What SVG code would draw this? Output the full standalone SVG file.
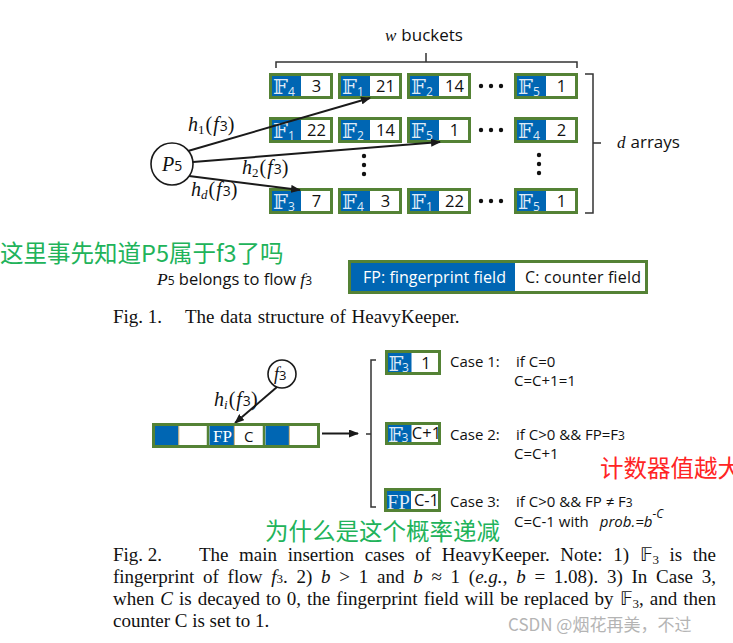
<svg xmlns="http://www.w3.org/2000/svg" width="733" height="643" viewBox="0 0 733 643">
<style>
.bk{fill:#fff;stroke:#548235;stroke-width:3}
.bl{fill:#0066b3}
.ff{font-family:"DejaVu Serif","DejaVu Sans","Liberation Serif",serif;fill:#dfeaf6;font-size:21px}
.fs{font-family:"Open Sans","Noto Sans",sans-serif;fill:#dfeaf6;font-size:12px}
.num{font-family:"Open Sans","Noto Sans",sans-serif;font-size:16.5px;fill:#111;text-anchor:middle}
.sans{font-family:"Open Sans","Noto Sans",sans-serif;fill:#111}
.ser{font-family:"Liberation Serif",serif;fill:#111}
.it{font-style:italic}
.ln{stroke:#1a1a1a;stroke-width:2;fill:none}
.br{stroke:#333;stroke-width:1.5;fill:none}
.dot{fill:#111}
.cap{font-family:"Liberation Serif",serif;font-size:19px;fill:#111}
.cjk{font-family:"Noto Sans CJK SC",sans-serif}
</style>
<defs>
<marker id="ah" markerUnits="userSpaceOnUse" markerWidth="10" markerHeight="8" refX="9" refY="4" orient="auto">
<path d="M0,0 L10,4 L0,8 z" fill="#1a1a1a"/>
</marker>
</defs>

<!-- top brackets -->
<g id="w-bracket">
<path class="br" d="M276,68 V62 H577 V68 M426,62 V53"/>
<text x="385" y="41" font-size="17"><tspan class="ser it">w</tspan><tspan class="sans" dx="5">buckets</tspan></text>
</g>
<g id="d-bracket">
<path class="br" d="M585,74 H593 V213 H585 M593,143 H601"/>
<text x="617" y="148" font-size="17"><tspan class="ser it">d</tspan><tspan class="sans" dx="5">arrays</tspan></text>
</g>

<!-- row 1 -->
<g id="b11" transform="translate(269,73)"><rect class="bk" x="1.5" y="1.5" width="61" height="23"/><rect class="bl" x="3" y="3" width="29" height="20"/><text class="ff" x="4" y="21">𝔽</text><text class="fs" x="19" y="23">4</text><text class="num" x="47.5" y="19">3</text></g>
<g id="b12" transform="translate(338,73)"><rect class="bk" x="1.5" y="1.5" width="61" height="23"/><rect class="bl" x="3" y="3" width="29" height="20"/><text class="ff" x="4" y="21">𝔽</text><text class="fs" x="19" y="23">1</text><text class="num" x="47.5" y="19">21</text></g>
<g id="b13" transform="translate(407,73)"><rect class="bk" x="1.5" y="1.5" width="61" height="23"/><rect class="bl" x="3" y="3" width="29" height="20"/><text class="ff" x="4" y="21">𝔽</text><text class="fs" x="19" y="23">2</text><text class="num" x="47.5" y="19">14</text></g>
<g id="b14" transform="translate(514,73)"><rect class="bk" x="1.5" y="1.5" width="61" height="23"/><rect class="bl" x="3" y="3" width="29" height="20"/><text class="ff" x="4" y="21">𝔽</text><text class="fs" x="19" y="23">5</text><text class="num" x="47.5" y="19">1</text></g>
<!-- row 2 -->
<g id="b21" transform="translate(269,117)"><rect class="bk" x="1.5" y="1.5" width="61" height="23"/><rect class="bl" x="3" y="3" width="29" height="20"/><text class="ff" x="4" y="21">𝔽</text><text class="fs" x="19" y="23">1</text><text class="num" x="47.5" y="19">22</text></g>
<g id="b22" transform="translate(338,117)"><rect class="bk" x="1.5" y="1.5" width="61" height="23"/><rect class="bl" x="3" y="3" width="29" height="20"/><text class="ff" x="4" y="21">𝔽</text><text class="fs" x="19" y="23">2</text><text class="num" x="47.5" y="19">14</text></g>
<g id="b23" transform="translate(407,117)"><rect class="bk" x="1.5" y="1.5" width="61" height="23"/><rect class="bl" x="3" y="3" width="29" height="20"/><text class="ff" x="4" y="21">𝔽</text><text class="fs" x="19" y="23">5</text><text class="num" x="47.5" y="19">1</text></g>
<g id="b24" transform="translate(514,117)"><rect class="bk" x="1.5" y="1.5" width="61" height="23"/><rect class="bl" x="3" y="3" width="29" height="20"/><text class="ff" x="4" y="21">𝔽</text><text class="fs" x="19" y="23">4</text><text class="num" x="47.5" y="19">2</text></g>
<!-- row d -->
<g id="b31" transform="translate(269,188)"><rect class="bk" x="1.5" y="1.5" width="61" height="23"/><rect class="bl" x="3" y="3" width="29" height="20"/><text class="ff" x="4" y="21">𝔽</text><text class="fs" x="19" y="23">3</text><text class="num" x="47.5" y="19">7</text></g>
<g id="b32" transform="translate(338,188)"><rect class="bk" x="1.5" y="1.5" width="61" height="23"/><rect class="bl" x="3" y="3" width="29" height="20"/><text class="ff" x="4" y="21">𝔽</text><text class="fs" x="19" y="23">4</text><text class="num" x="47.5" y="19">3</text></g>
<g id="b33" transform="translate(407,188)"><rect class="bk" x="1.5" y="1.5" width="61" height="23"/><rect class="bl" x="3" y="3" width="29" height="20"/><text class="ff" x="4" y="21">𝔽</text><text class="fs" x="19" y="23">1</text><text class="num" x="47.5" y="19">22</text></g>
<g id="b34" transform="translate(514,188)"><rect class="bk" x="1.5" y="1.5" width="61" height="23"/><rect class="bl" x="3" y="3" width="29" height="20"/><text class="ff" x="4" y="21">𝔽</text><text class="fs" x="19" y="23">5</text><text class="num" x="47.5" y="19">1</text></g>

<!-- dots -->
<g id="dots">
<circle class="dot" cx="481" cy="86" r="2.2"/><circle class="dot" cx="491" cy="86" r="2.2"/><circle class="dot" cx="501" cy="86" r="2.2"/>
<circle class="dot" cx="481" cy="130" r="2.2"/><circle class="dot" cx="491" cy="130" r="2.2"/><circle class="dot" cx="501" cy="130" r="2.2"/>
<circle class="dot" cx="481" cy="201" r="2.2"/><circle class="dot" cx="491" cy="201" r="2.2"/><circle class="dot" cx="501" cy="201" r="2.2"/>
<circle class="dot" cx="364" cy="156" r="2.2"/><circle class="dot" cx="364" cy="165" r="2.2"/><circle class="dot" cx="364" cy="174" r="2.2"/>
<circle class="dot" cx="539" cy="155" r="2.2"/><circle class="dot" cx="539" cy="164" r="2.2"/><circle class="dot" cx="539" cy="173" r="2.2"/>
</g>

<!-- P5 node -->
<g id="p5">
<circle cx="172" cy="164" r="21" fill="#fff" stroke="#1a1a1a" stroke-width="1.6"/>
<text x="162" y="171" font-size="20"><tspan class="ser it">P</tspan><tspan class="sans" font-size="14">5</tspan></text>
</g>

<!-- f3 node -->
<g id="f3">
<circle cx="282" cy="374" r="14" fill="#fff" stroke="#1a1a1a" stroke-width="1.6"/>
<text x="274" y="380" font-size="18"><tspan class="ser it">f</tspan><tspan class="sans" font-size="13">3</tspan></text>
</g>

<!-- connectors -->
<g id="connectors">
<line class="ln" x1="188" y1="151" x2="370" y2="98" marker-end="url(#ah)"/>
<line class="ln" x1="193" y1="162" x2="440" y2="142" marker-end="url(#ah)"/>
<line class="ln" x1="189" y1="176" x2="300" y2="190" marker-end="url(#ah)"/>
<line class="ln" x1="277" y1="387" x2="235" y2="423" marker-end="url(#ah)"/>
<line class="ln" x1="322" y1="433.5" x2="358" y2="433.5" marker-end="url(#ah)"/>
</g>

<!-- hash labels -->
<g id="labels" font-size="20">
<text x="188" y="131"><tspan class="ser it">h</tspan><tspan class="ser" font-size="13" dy="3">1</tspan><tspan class="ser" dy="-3" dx="1">(</tspan><tspan class="ser it" dx="1">f</tspan><tspan class="sans" font-size="14" dx="1">3</tspan><tspan class="ser">)</tspan></text>
<text x="242" y="174"><tspan class="ser it">h</tspan><tspan class="ser" font-size="13" dy="3">2</tspan><tspan class="ser" dy="-3" dx="1">(</tspan><tspan class="ser it" dx="1">f</tspan><tspan class="sans" font-size="14" dx="1">3</tspan><tspan class="ser">)</tspan></text>
<text x="191" y="196"><tspan class="ser it">h</tspan><tspan class="ser it" font-size="13" dy="3">d</tspan><tspan class="ser" dy="-3" dx="1">(</tspan><tspan class="ser it" dx="1">f</tspan><tspan class="sans" font-size="14" dx="1">3</tspan><tspan class="ser">)</tspan></text>
<text x="214" y="406"><tspan class="ser it">h</tspan><tspan class="ser it" font-size="13" dy="3">i</tspan><tspan class="ser" dy="-3" dx="1">(</tspan><tspan class="ser it" dx="1">f</tspan><tspan class="sans" font-size="14" dx="1">3</tspan><tspan class="ser">)</tspan></text>
</g>

<!-- annotation and legend -->
<text class="cjk" x="0" y="262" font-size="23.5" fill="#21b35a">这里事先知道P5属于f3了吗</text>
<text x="157" y="285" font-size="16.5"><tspan class="ser it" font-size="17.5">P</tspan><tspan class="sans" font-size="12">5</tspan><tspan class="sans"> belongs to flow </tspan><tspan class="ser it" font-size="17.5">f</tspan><tspan class="sans" font-size="12">3</tspan></text>
<g id="legend">
<rect x="349.5" y="261.5" width="297" height="31" fill="#fff" stroke="#548235" stroke-width="3"/>
<rect x="351" y="263" width="164" height="28" fill="#0066b3"/>
<text class="sans" x="363" y="283" font-size="16" style="fill:#fff" textLength="143">FP: fingerprint field</text>
<text class="sans" x="525" y="283" font-size="16" textLength="116">C: counter field</text>
</g>
<text class="cap" x="113" y="323">Fig. 1.</text>
<text class="cap" x="185" y="323" word-spacing="1">The data structure of HeavyKeeper.</text>

<!-- fig 2 array -->
<g id="array">
<rect x="153.5" y="424.5" width="165" height="22" fill="#fff" stroke="#548235" stroke-width="3"/>
<rect class="bl" x="155" y="426" width="23.5" height="19"/>
<rect class="bl" x="209.5" y="426" width="24.5" height="19"/>
<rect class="bl" x="265.5" y="426" width="23.5" height="19"/>
<path d="M178.8,426 V445 M234.3,426 V445 M289.3,426 V445" stroke="#c9a86a" stroke-width="1"/>
<path d="M208,424 V447 M264,424 V447" stroke="#548235" stroke-width="2.5"/>
<text x="213" y="442" font-family="Liberation Serif,serif" font-size="17" fill="#fff">FP</text>
<text class="sans" x="244" y="442" font-size="15">C</text>
</g>

<!-- case bracket -->
<path id="case-bracket" class="br" d="M376,360 H371 V507 H376 M371,434 H366"/>

<g id="case1">
<rect class="bk" x="386.5" y="351.5" width="53" height="22"/>
<rect class="bl" x="388" y="353" width="23.5" height="19"/>
<text class="ff" x="388.5" y="371">𝔽</text><text class="fs" x="402" y="372">3</text>
<text class="num" x="426" y="368.5" font-size="15">1</text>
<text class="sans" x="450" y="367" font-size="15">Case 1:</text>
<text class="sans" x="516" y="367" font-size="15">if C=0</text>
<text class="sans" x="514" y="386" font-size="15">C=C+1=1</text>
</g>
<g id="case2">
<rect class="bk" x="386.5" y="423.5" width="53" height="20"/>
<rect class="bl" x="388" y="425" width="23.5" height="17"/>
<text class="ff" x="388" y="441.5" font-size="19.5">𝔽</text><text class="fs" x="401.5" y="442" font-size="11.5">3</text>
<text class="num" x="426.5" y="438.5" font-size="11.5">C+1</text>
<text class="sans" x="450" y="440" font-size="15">Case 2:</text>
<text class="sans" x="516" y="440" font-size="15">if C&gt;0 &amp;&amp; FP=F<tspan font-size="12">3</tspan></text>
<text class="sans" x="514" y="459" font-size="15">C=C+1</text>
</g>
<g id="case3">
<rect class="bk" x="385.5" y="489.5" width="54" height="21"/>
<rect class="bl" x="387" y="491" width="24" height="18"/>
<text x="387" y="508.5" font-family="Liberation Serif,serif" font-size="20.5" fill="#dfeaf6">FP</text>
<text class="num" x="426.5" y="505.5" font-size="12">C-1</text>
<text class="sans" x="450" y="507" font-size="15">Case 3:</text>
<text class="sans" x="516" y="507" font-size="15">if C&gt;0 &amp;&amp; FP ≠ F<tspan font-size="12">3</tspan></text>
<text class="sans" x="514" y="527" font-size="15">C=C-1 with<tspan class="it" dx="11">prob.=b</tspan><tspan class="it" font-size="12" dy="-9">-C</tspan></text>
</g>

<text class="cjk" x="600" y="477" font-size="23.5" fill="#ff2424">计数器值越大</text>
<text class="cjk" x="265" y="540" font-size="23.5" fill="#21b35a">为什么是这个概率递减</text>

<!-- fig 2 caption -->
<text class="cap" x="113" y="561">Fig. 2.</text>
<text class="cap" x="199" y="561" word-spacing="5.8">The main insertion cases of HeavyKeeper. Note: 1) 𝔽<tspan font-size="13" dy="3">3</tspan><tspan dy="-3"> is the</tspan></text>
<text class="cap" x="113" y="583" word-spacing="4">fingerprint of flow <tspan class="it">f</tspan><tspan font-size="13">3</tspan>. 2) <tspan class="it">b</tspan> &gt; 1 and <tspan class="it">b</tspan> ≈ 1 (<tspan class="it">e.g.</tspan>, <tspan class="it">b</tspan> = 1.08). 3) In Case 3,</text>
<text class="cap" x="113" y="605" word-spacing="1.3">when <tspan class="it">C</tspan> is decayed to 0, the fingerprint field will be replaced by 𝔽<tspan font-size="13" dy="3">3</tspan><tspan dy="-3">, and then</tspan></text>
<text class="cap" x="113" y="627">counter C is set to 1.</text>
<text class="cjk" x="508" y="631" font-size="17" fill="#b4b4b4">CSDN @烟花再美，不过</text>
</svg>
